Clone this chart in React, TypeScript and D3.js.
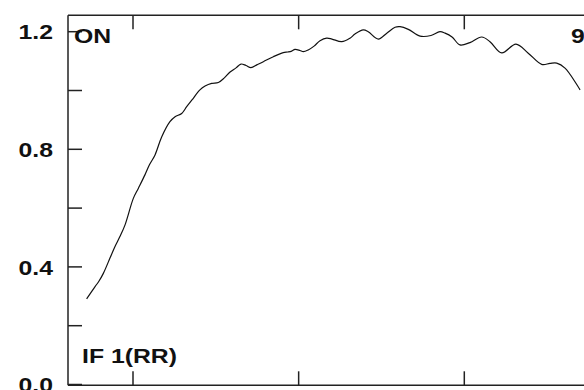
import React from "react";
import * as d3 from "d3";

const xValues = [1.2, 1.71, 1.95, 2.21, 2.61, 2.9, 3.21, 3.52, 4.02, 4.32, 4.72, 5.0, 5.33, 5.73, 6.23, 6.54, 6.94, 7.24, 7.56, 8.04, 8.35, 8.75, 9.15, 9.5, 9.86, 10.22, 10.52, 10.82, 11.12, 11.5, 11.87, 12.47, 13.07, 13.35, 13.58, 13.78, 14.08, 14.28, 14.58, 14.93, 15.29, 15.69, 16.01, 16.6, 17.1, 17.4, 17.9, 18.2, 18.81, 19.32, 19.82, 20.12, 20.62, 21.33, 21.99, 22.53, 22.84, 23.26, 23.74, 24.34, 25.05, 25.55, 26.26, 27.12, 27.86, 28.67, 29.17, 29.58, 30.08, 30.99];
const yValues = [0.291, 0.333, 0.352, 0.378, 0.43, 0.468, 0.503, 0.543, 0.633, 0.667, 0.713, 0.748, 0.781, 0.842, 0.894, 0.911, 0.922, 0.945, 0.968, 1.002, 1.015, 1.024, 1.027, 1.042, 1.063, 1.077, 1.09, 1.085, 1.078, 1.088, 1.098, 1.115, 1.129, 1.131, 1.134, 1.14, 1.136, 1.132, 1.138, 1.151, 1.169, 1.178, 1.175, 1.166, 1.178, 1.192, 1.206, 1.2, 1.175, 1.195, 1.215, 1.217, 1.208, 1.185, 1.187, 1.2, 1.195, 1.182, 1.155, 1.163, 1.182, 1.166, 1.128, 1.158, 1.127, 1.089, 1.092, 1.093, 1.076, 1.002];
const yTicks = [0, 0.2, 0.4, 0.6, 0.8, 1.0, 1.2];
const yLabelTicks = [0, 0.4, 0.8, 1.2];
const xTicks = [4, 14, 24];
const topLeftLabel = "ON";
const topRightLabel = "90";
const bottomLabel = "IF 1(RR)";

export default function App() {
  const W = 584, H = 390;
  const left = 68, top = 15.3, bottom = 385.3, right = 620;
  const x = d3.scaleLinear().domain([4, 24]).range([133, 464.3]);
  const y = d3.scaleLinear().domain([0, 1.2]).range([384.5, 31.7]);
  const pts: [number, number][] = xValues.map((v, i) => [v, yValues[i]]);
  const line = d3.line<[number, number]>().x(d => x(d[0])).y(d => y(d[1])).curve(d3.curveCatmullRom.alpha(0.5));
  const fmt = d3.format(".1f");
  const font = "'Liberation Sans', Arial, sans-serif";
  const sx = 1.18;
  const T = (props: { x: number; y: number; anchor?: string; children: string }) => (
    <text transform={`translate(${props.x},${props.y}) scale(${sx},1)`} textAnchor={props.anchor || "start"}>{props.children}</text>
  );
  return (
    <svg width={W} height={H} style={{ position: "fixed", left: 0, top: 0, background: "#fff" }}>
      <rect x={0} y={0} width={W} height={H} fill="#fff" />
      <path d={line(pts) || ""} fill="none" stroke="#111" strokeWidth={1.2} />
      <g stroke="#222" strokeWidth={1.5}>
        <line x1={left} y1={top} x2={left} y2={bottom} />
        <line x1={left} y1={top} x2={right} y2={top} />
        <line x1={left} y1={bottom} x2={right} y2={bottom} />
        {yTicks.map(t => (
          <line key={"yt" + t} x1={left} x2={left + 14} y1={y(t)} y2={y(t)} />
        ))}
        {xTicks.map(t => (
          <g key={"xt" + t}>
            <line x1={x(t)} x2={x(t)} y1={top} y2={top + 14} />
            <line x1={x(t)} x2={x(t)} y1={bottom} y2={bottom - 14} />
          </g>
        ))}
      </g>
      <g fontFamily={font} fontWeight="bold" fontSize={21} fill="#111">
        {yLabelTicks.map(t => (
          <T key={"yl" + t} x={53} y={y(t) + 7.6} anchor="end">{fmt(t)}</T>
        ))}
        <T x={74} y={43}>{topLeftLabel}</T>
        <T x={571} y={43}>{topRightLabel}</T>
        <T x={82} y={363}>{bottomLabel}</T>
      </g>
    </svg>
  );
}
